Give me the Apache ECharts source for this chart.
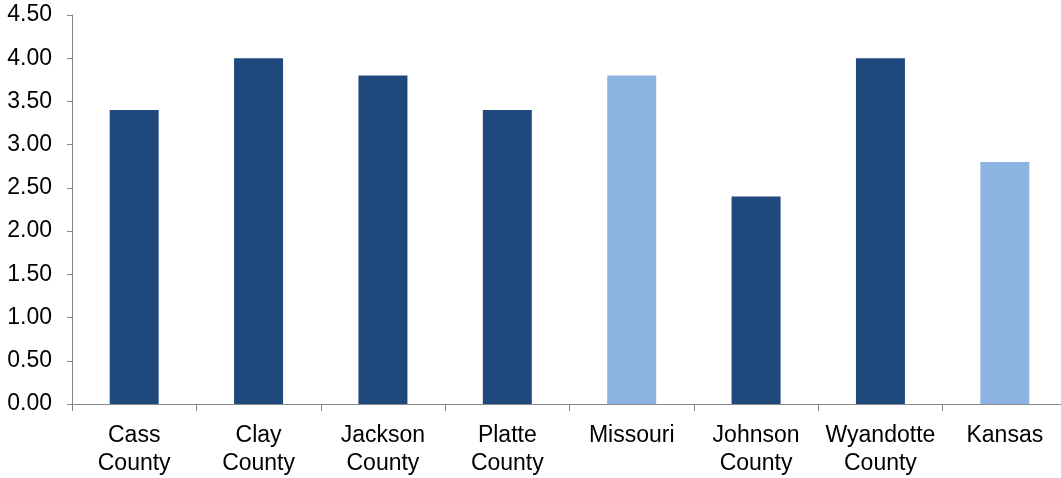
<!DOCTYPE html>
<html><head><meta charset="utf-8">
<script src="https://cdn.jsdelivr.net/npm/echarts@6/dist/echarts.min.js"></script>
<style>html,body{margin:0;padding:0;background:#fff;overflow:hidden;width:1061px;height:478px}#c{width:1072px;height:478px}</style>
</head><body><div id="c"></div>
<script>
const categories = ["Cass\nCounty","Clay\nCounty","Jackson\nCounty","Platte\nCounty","Missouri","Johnson\nCounty","Wyandotte\nCounty","Kansas"];
const values = [3.4, 4.0, 3.8, 3.4, 3.8, 2.4, 4.0, 2.8];
const isState = [false,false,false,false,true,false,false,true];
const darkColor = "#1F497D";
const lightColor = "#8DB3E2";
const chart = echarts.init(document.getElementById('c'), null, {renderer:'canvas'});
chart.setOption({
  animation:false,
  backgroundColor:'#fff',
  grid:{left:72, top:15, bottom:73, right:5, containLabel:false},
  xAxis:{type:'category', data:categories,
    axisLine:{lineStyle:{color:'#868686', width:1}},
    axisTick:{show:true, length:7, alignWithLabel:false, lineStyle:{color:'#868686'}},
    axisLabel:{color:'#000', fontFamily:'Liberation Sans, Arial, sans-serif', fontSize:23, lineHeight:28, margin:18, interval:0}
  },
  yAxis:{type:'value', min:0, max:4.5, interval:0.5,
    splitLine:{show:false},
    axisLine:{show:true, lineStyle:{color:'#868686', width:1}},
    axisTick:{show:true, length:5, lineStyle:{color:'#868686'}},
    axisLabel:{color:'#000', fontFamily:'Liberation Sans, Arial, sans-serif', fontSize:23, margin:20,
      formatter:v=>v.toFixed(2)}
  },
  series:[{type:'bar', barWidth:49,
    data: values.map((v,i)=>({value:v, itemStyle:{color: isState[i]?lightColor:darkColor}}))
  }]
});
</script></body></html>
